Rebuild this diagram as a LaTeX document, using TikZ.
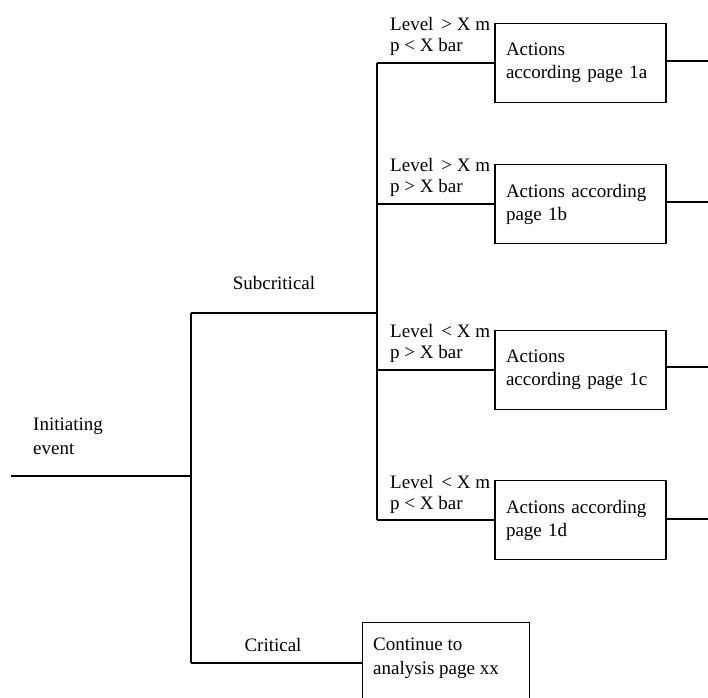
\documentclass[tikz,border=0pt]{standalone}
\usepackage{fontspec}
\setmainfont{Liberation Serif}
\usetikzlibrary{calc}
\begin{document}
\begin{tikzpicture}[x=1pt,y=-1pt,
  wire/.style={line width=1.3pt},
  txt/.style={font=\fontsize{19}{24}\selectfont, inner sep=0pt, align=left},
  cond/.style={font=\fontsize{19}{21}\selectfont, inner sep=0pt, align=left, anchor=west},
  actbox/.style={draw, line width=1.3pt, minimum width=171pt, minimum height=79pt,
    text width=149pt, inner xsep=11pt, inner ysep=0pt, align=left,
    font=\fontsize{19}{23}\selectfont}]
\useasboundingbox (0,0) rectangle (708,697);

% action boxes
\node[actbox] (a1) at (580.5,63)  {Actions\\according page 1a};
\node[actbox] (a2) at (580.5,204) {Actions according\\page 1b};
\node[actbox] (a3) at (580.5,370) {Actions\\according page 1c};
\node[actbox] (a4) at (580.5,520) {Actions according\\page 1d};

% condition labels
\node[cond] (l1) at (390,36)  {Level \,> X m\\p < X bar};
\node[cond] (l2) at (390,177) {Level \,> X m\\p > X bar};
\node[cond] (l3) at (390,343) {Level \,< X m\\p > X bar};
\node[cond] (l4) at (390,494) {Level \,< X m\\p < X bar};

% branch points
\coordinate (v1) at (377,63);
\coordinate (v2) at (377,204);
\coordinate (v3) at (377,370);
\coordinate (v4) at (377,520);
\coordinate (sb) at (377,313);
\coordinate (s)  at (191,313);
\coordinate (i1) at (191,476);
\coordinate (i0) at (11,476);
\coordinate (c)  at (191,663);

% right free ends
\coordinate (r1) at (708,61);
\coordinate (r2) at (708,202);
\coordinate (r3) at (708,367);
\coordinate (r4) at (708,519);

\draw[wire] (v1) -- (v4);
\draw[wire] (v1) -- (a1);
\draw[wire] (v2) -- (a2);
\draw[wire] (v3) -- (a3);
\draw[wire] (v4) -- (a4);
\draw[wire] (a1.east |- r1) -- (r1);
\draw[wire] (a2.east |- r2) -- (r2);
\draw[wire] (a3.east |- r3) -- (r3);
\draw[wire] (a4.east |- r4) -- (r4);

\draw[wire] (s) -- (sb);
\draw[wire] (s) -- (c);
\draw[wire] (i0) -- (i1);

% critical box
\node[draw, line width=1.3pt, anchor=north west, minimum width=167pt, minimum height=95pt, inner sep=0pt] (cb) at (362,622) {};
\node[txt, anchor=north west] (cbt) at (373,638) {Continue to\\analysis page xx};
\draw[wire] (c) -- (c -| cb.west);

% texts
\node[txt] (sub) at (274,283) {Subcritical};
\node[txt] (crit) at (273,645) {Critical};
\node[txt, anchor=west] (init) at (33,436) {Initiating\\event};
\end{tikzpicture}
\end{document}
